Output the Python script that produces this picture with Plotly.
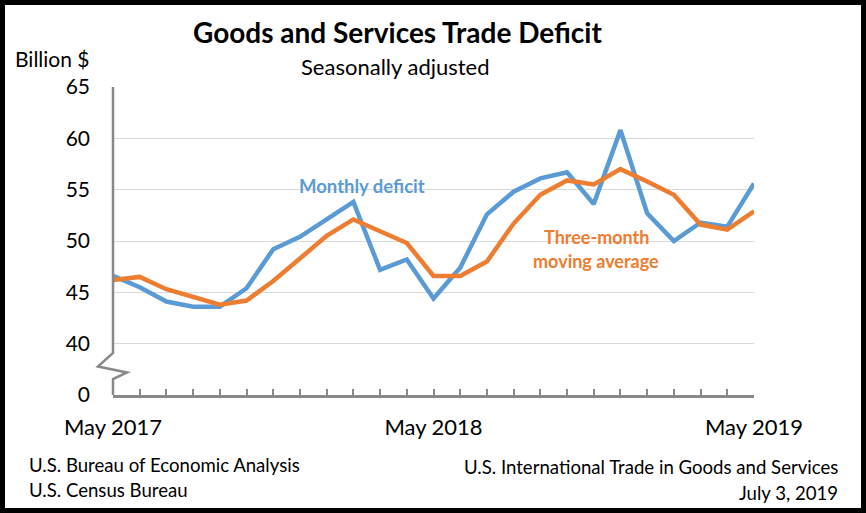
import plotly.graph_objects as go

months = ["May 2017", "Jun 2017", "Jul 2017", "Aug 2017", "Sep 2017", "Oct 2017",
          "Nov 2017", "Dec 2017", "Jan 2018", "Feb 2018", "Mar 2018", "Apr 2018",
          "May 2018", "Jun 2018", "Jul 2018", "Aug 2018", "Sep 2018", "Oct 2018",
          "Nov 2018", "Dec 2018", "Jan 2019", "Feb 2019", "Mar 2019", "Apr 2019",
          "May 2019"]
monthly = [46.6, 45.5, 44.1, 43.6, 43.6, 45.4, 49.2, 50.4, 52.1, 53.8, 47.2, 48.2,
           44.4, 47.4, 52.6, 54.8, 56.1, 56.7, 53.6, 60.8, 52.7, 50.0, 51.8, 51.4,
           55.6]
moving_avg = [46.2, 46.5, 45.3, 44.5, 43.8, 44.2, 46.1, 48.3, 50.5, 52.1, 50.9, 49.8,
              46.6, 46.6, 48.0, 51.7, 54.5, 55.9, 55.5, 57.0, 55.8, 54.5, 51.6, 51.1,
              52.9]
shown_labels = ["May 2017", "May 2018", "May 2019"]
y_ticks = [35, 40, 45, 50, 55, 60, 65]
y_text = ["0", "40", "45", "50", "55", "60", "65"]

W, H = 866, 513
L, R, T, B = 113, 754, 87, 395
FONT = "Lato"
BLUE = "#5B9BD5"
ORANGE = "#ED7D31"
AXIS = "#898989"


def px(x):
    return (x - L) / (R - L)


def py(y):
    return (B - y) / (B - T)


fig = go.Figure()
fig.add_trace(go.Scatter(x=months, y=monthly, mode="lines", name="Monthly deficit",
                         line=dict(color=BLUE, width=4.5)))
fig.add_trace(go.Scatter(x=months, y=moving_avg, mode="lines", name="Three-month moving average",
                         line=dict(color=ORANGE, width=4.5)))

fig.update_layout(
    width=W, height=H,
    margin=dict(l=L, r=W - R, t=T, b=H - B),
    plot_bgcolor="white", paper_bgcolor="white",
    showlegend=False,
    font=dict(family=FONT, color="black"),
)
fig.update_xaxes(
    type="category", range=[0, len(months) - 1],
    tickvals=months,
    ticktext=[m if m in shown_labels else "" for m in months],
    ticks="inside", ticklen=6, tickwidth=2, tickcolor=AXIS,
    showline=True, linecolor=AXIS, linewidth=3,
    showgrid=False, tickfont=dict(size=22, family=FONT), ticklabelstandoff=11,
)
fig.update_yaxes(
    range=[35, 65], tickvals=y_ticks, ticktext=y_text,
    showgrid=True, gridcolor="#D9D9D9", gridwidth=1,
    showline=False, zeroline=False, ticks="",
    tickfont=dict(size=21, family=FONT), ticklabelstandoff=22,
)

# broken y axis drawn by hand
fig.add_shape(type="path", xref="paper", yref="paper",
              path=(f"M 0 1 L 0 {py(353)} L {px(98)} {py(366.5)} "
                    f"L {px(127)} {py(372.5)} L 0 {py(379)} L 0 0"),
              line=dict(color=AXIS, width=2.5))

# outer frame
fig.add_shape(type="rect", xref="paper", yref="paper",
              x0=px(2.5), x1=px(W - 2.5), y0=py(H - 2.5), y1=py(2.5),
              line=dict(color="black", width=5), layer="above")

notes = [
    dict(text="<b>Goods and Services Trade Deficit</b>", x=397, y=32, size=28, anchor="center"),
    dict(text="Seasonally adjusted", x=395, y=66, size=22, anchor="center"),
    dict(text="Billion $", x=13, y=58, size=21, anchor="left"),
    dict(text="<b>Monthly deficit</b>", x=362, y=186, size=18.5, anchor="center", color=BLUE),
    dict(text="<b>Three-month</b>", x=596, y=237, size=18, anchor="center", color=ORANGE),
    dict(text="<b>moving average</b>", x=596, y=261, size=18, anchor="center", color=ORANGE),
    dict(text="U.S. Bureau of Economic Analysis", x=27, y=465, size=18.6, anchor="left"),
    dict(text="U.S. Census Bureau", x=27, y=490, size=18.6, anchor="left"),
    dict(text="U.S. International Trade in Goods and Services", x=840, y=467, size=18.6, anchor="right"),
    dict(text="July 3, 2019", x=840, y=493, size=18.6, anchor="right"),
]
for n in notes:
    fig.add_annotation(text=n["text"], xref="paper", yref="paper", x=px(n["x"]), y=py(n["y"]),
                       xanchor=n["anchor"], yanchor="middle", showarrow=False,
                       font=dict(size=n["size"], family=FONT, color=n.get("color", "black")))

fig.write_html("out.html", config={"displayModeBar": False},
               post_script="document.body.style.margin = '0';")
